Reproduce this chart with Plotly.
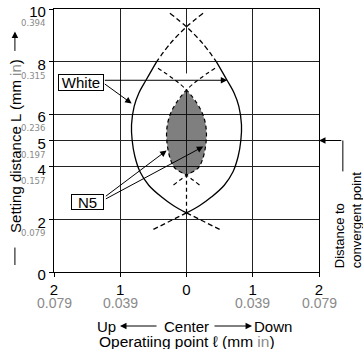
import plotly.graph_objects as go

# ---------------- data ----------------
x_ticks = [-2, -1, 0, 1, 2]
x_tick_mm = ["2", "1", "0", "1", "2"]
x_tick_in = ["0.079", "0.039", "", "0.039", "0.079"]
y_ticks = [0, 2, 4, 5, 6, 8, 10]
y_tick_mm = ["0", "2", "4", "5", "6", "8", "10"]
y_tick_in = ["", "0.079", "0.157", "0.197", "0.236", "0.315", "0.394"]

# "White" detection area: right-hand arc (left arc is its mirror image)
white_top_x = [-0.25, 0.0, 0.24, 0.45]            # dashed part above L = 8
white_top_L = [9.84, 9.32, 8.7, 8.0]
white_mid_x = [0.45, 0.61, 0.72, 0.79, 0.83, 0.82, 0.78, 0.70, 0.57, 0.38, 0.20, 0.0]   # solid part
white_mid_L = [8.0, 7.3, 6.8, 6.3, 5.6, 5.0, 4.4, 3.8, 3.3, 2.86, 2.53, 2.25]
white_bot_x = [0.0, -0.5]                         # dashed extension below crossing
white_bot_L = [2.25, 1.62]

# "N5" detection area: right-hand arc (left arc is its mirror image)
n5_x = [-0.43, 0.0, 0.245, 0.30, 0.19, 0.0, -0.2]
n5_L = [7.75, 6.92, 6.0, 5.1, 4.0, 3.68, 3.3]
n5_fill_x = [0.0, 0.245, 0.30, 0.19, 0.0]
n5_fill_L = [6.92, 6.0, 5.1, 4.0, 3.68]

center_dash_L = [2.25, 3.68]
center_gap_L = [6.95, 7.55]

GRAY = "#8a8a8a"
FONT = "Liberation Sans, Arial, Helvetica, sans-serif"
NARROW = "Liberation Sans Narrow, Arial Narrow, DejaVu Sans Condensed, sans-serif"

W, H = 363, 349
ML, MR, MT, MB = 54, 44, 9, 76.5
PXX = (W - ML - MR) / 4.0     # pixels per x unit
PXY = (H - MT - MB) / 10.0    # pixels per L unit

def px(x):
    return (x + 2) / 4.0

def py(L):
    return L / 10.0

fig = go.Figure()

def neg(v):
    return [-a for a in v]

# N5 gray fill (two halves, translucent so grid shows through)
for sx in (n5_fill_x, neg(n5_fill_x)):
    fig.add_trace(go.Scatter(x=sx, y=n5_fill_L, mode="lines", line=dict(width=0, shape="spline"),
                             fill="toself", fillcolor="rgba(0,0,0,0.5)", hoverinfo="skip"))

# center line special segments
fig.add_trace(go.Scatter(x=[0, 0], y=center_dash_L, mode="lines", line=dict(color="white", width=3), hoverinfo="skip"))
fig.add_trace(go.Scatter(x=[0, 0], y=center_dash_L, mode="lines",
                         line=dict(color="black", width=1.2, dash="4px,3px"), hoverinfo="skip"))
fig.add_trace(go.Scatter(x=[0, 0], y=center_gap_L, mode="lines", line=dict(color="white", width=3), hoverinfo="skip"))

# White arcs and N5 outline
for sgn in (1, -1):
    f = (lambda v: v) if sgn == 1 else neg
    fig.add_trace(go.Scatter(x=f(white_top_x), y=white_top_L, mode="lines",
                             line=dict(color="black", width=1.3, dash="5px,3px", shape="spline"), hoverinfo="skip"))
    fig.add_trace(go.Scatter(x=f(white_mid_x), y=white_mid_L, mode="lines",
                             line=dict(color="black", width=1.3, shape="spline"), hoverinfo="skip"))
    fig.add_trace(go.Scatter(x=f(white_bot_x), y=white_bot_L, mode="lines",
                             line=dict(color="black", width=1.3, dash="5px,3px", shape="spline"), hoverinfo="skip"))
    fig.add_trace(go.Scatter(x=f(n5_x), y=n5_L, mode="lines",
                             line=dict(color="black", width=1.2, dash="4px,3px", shape="spline"), hoverinfo="skip"))

ann = []

def arrow(tip, tail, head=2):
    ann.append(dict(x=tip[0], y=tip[1], ax=tail[0], ay=tail[1], xref="x", yref="y", axref="x", ayref="y",
                    text="", showarrow=True, arrowhead=head, arrowsize=1.3, arrowwidth=1, arrowcolor="black",
                    standoff=0, startstandoff=0))

def parrow(tip, tail, head=2):
    # tip / tail given in data units, placed on paper (may lie outside the axes)
    ann.append(dict(x=px(tip[0]), y=py(tip[1]), xref="paper", yref="paper",
                    ax=(tail[0] - tip[0]) * PXX, ay=-(tail[1] - tip[1]) * PXY, axref="pixel", ayref="pixel",
                    text="", showarrow=True, arrowhead=head, arrowsize=1.3, arrowwidth=1, arrowcolor="black",
                    standoff=0, startstandoff=0))

def barrow(tip_x, tail_x, drop):
    # horizontal arrow below the x axis, 'drop' pixels under it
    ann.append(dict(x=tip_x, y=0, xref="x", yref="y", ax=(tail_x - tip_x) * PXX, ay=0,
                    axref="pixel", ayref="pixel", yshift=-drop,
                    text="", showarrow=True, arrowhead=2, arrowsize=1.3, arrowwidth=1, arrowcolor="black",
                    standoff=0, startstandoff=0))

def label(x, y, text, size=15, color="black", **kw):
    d = dict(x=x, y=y, xref="x", yref="y", text=text, showarrow=False,
             xanchor="center", yanchor="middle",
             font=dict(family=FONT, size=size, color=color))
    d.update(kw)
    ann.append(d)

def plabel(x, y, text, size=15, color="black", **kw):
    d = dict(x=px(x), y=py(y), xref="paper", yref="paper", text=text, showarrow=False,
             xanchor="center", yanchor="middle",
             font=dict(family=FONT, size=size, color=color))
    d.update(kw)
    ann.append(d)

def blabel(x, drop, text, size=15, color="black"):
    # text centred 'drop' pixels below the x axis
    ann.append(dict(x=x, y=0, xref="x", yref="y", text=text, showarrow=False,
                    xanchor="center", yanchor="middle", yshift=-drop,
                    font=dict(family=FONT, size=size, color=color)))

# White label and arrows
arrow((0.616, 7.29), (-1.256, 7.29))
arrow((-0.828, 6.41), (-1.256, 7.19))
label(-1.59, 7.2, "White", bordercolor="black", borderwidth=1, borderpad=0, bgcolor="white",
      width=44, height=15)

# N5 label and arrows
arrow((-0.30, 4.62), (-1.24, 2.84))
arrow((0.254, 4.77), (-1.24, 2.75))
label(-1.487, 2.67, "N5", bordercolor="black", borderwidth=1, borderpad=0, bgcolor="white",
      width=31, height=14)

# Distance to convergent point
parrow((2.36, 5.0), (2.36, 3.77), head=0)
parrow((2.0, 5.0), (2.36, 5.0))
plabel(2.45, 2.0, "Distance to<br>convergent point", size=13, textangle=-90, align="left")

# y-axis title
plabel(-2.59, 4.79, "Setting distance L (mm <span style='color:%s'>in</span>)" % GRAY, size=15, textangle=-90)
parrow((-2.59, 9.14), (-2.59, 8.35))
parrow((-2.59, 0.93), (-2.59, 0.21), head=0)

# secondary tick labels (inches)
for xv, t in zip(x_ticks, x_tick_in):
    if t:
        blabel(xv, 31, t, size=14, color=GRAY)
for yv, t in zip(y_ticks, y_tick_in):
    if t:
        ann.append(dict(x=0, y=yv, xref="paper", yref="y", text=t, showarrow=False, xanchor="right",
                        yanchor="middle", xshift=-7, yshift=-13.5, font=dict(family=NARROW, size=9.5, color=GRAY)))

# x-axis title
blabel(-1.215, 54, "Up")
blabel(0.0, 54, "Center")
blabel(1.306, 54, "Down")
barrow(-1.004, -0.43, 54)
barrow(0.99, 0.40, 54)
blabel(0.0, 69.5, "Operatiing point ℓ (mm <span style='color:%s'>in</span>)" % GRAY, size=15.5)

fig.update_layout(
    width=W, height=H,
    margin=dict(l=ML, r=MR, t=MT, b=MB, autoexpand=False),
    paper_bgcolor="white", plot_bgcolor="white",
    showlegend=False,
    font=dict(family=FONT, size=15, color="black"),
    annotations=ann,
)
fig.update_xaxes(range=[-2, 2], tickvals=x_ticks, ticktext=x_tick_mm, showgrid=True, gridcolor="#222",
                 gridwidth=1, zeroline=False, showline=True, linecolor="black", linewidth=1.3, mirror=True,
                 ticks="outside", ticklen=4, tickcolor="black", tickfont=dict(size=15))
fig.update_yaxes(range=[0, 10], tickvals=y_ticks, ticktext=y_tick_mm, showgrid=True, gridcolor="#222",
                 gridwidth=1, zeroline=False, showline=True, linecolor="black", linewidth=1.3, mirror=True,
                 ticks="outside", ticklen=4, tickcolor="black", tickfont=dict(size=15), ticklabelshift=3)

fig.write_html("out.html", config=dict(displayModeBar=False, responsive=False),
               post_script="document.body.style.margin='0px';")
